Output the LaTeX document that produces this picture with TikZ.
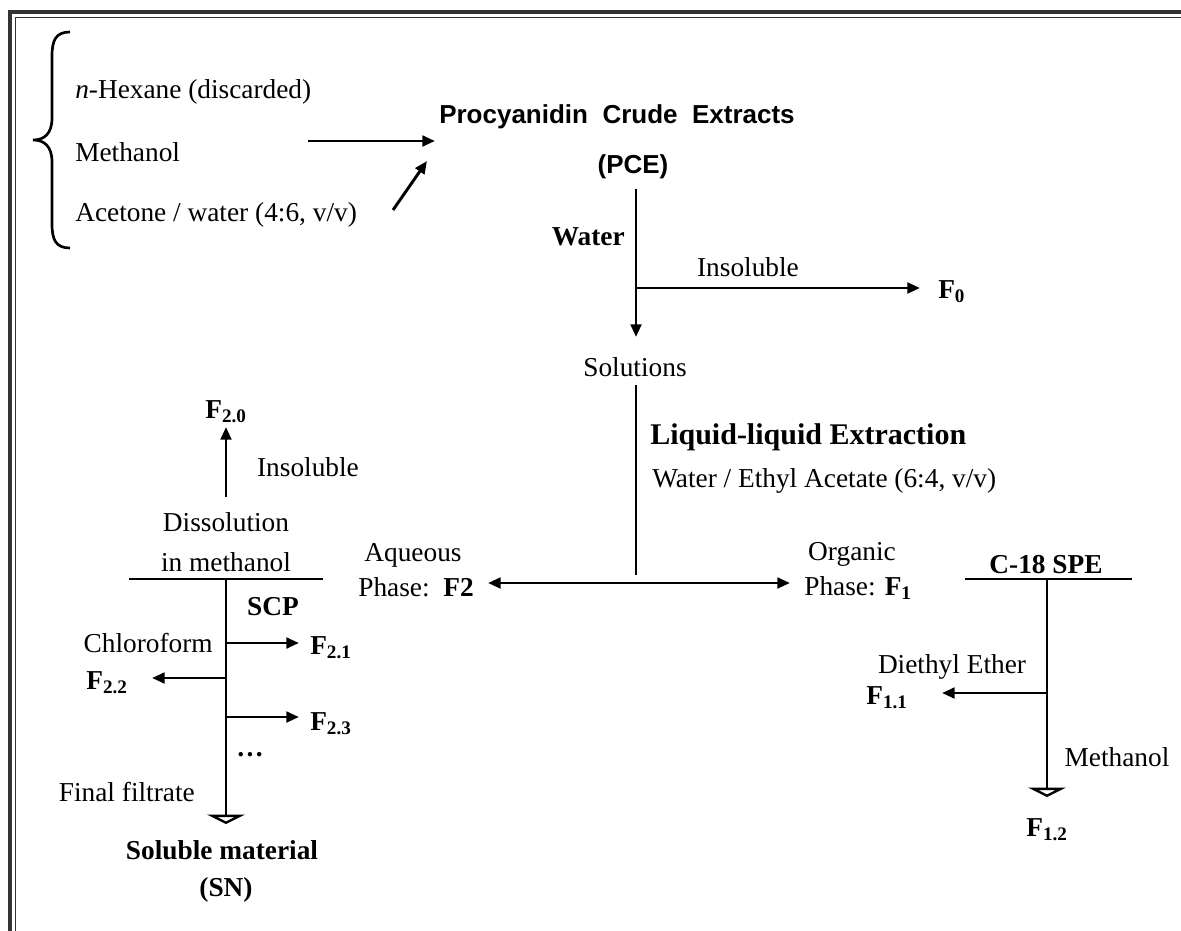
\documentclass[tikz,border=0pt]{standalone}
\usepackage{fontspec}
\setmainfont{Liberation Serif}
\newfontfamily\sansfont{Liberation Sans}
\usetikzlibrary{arrows.meta, positioning, calc}

\newcommand{\fr}[1]{\textbf{F\textsubscript{#1}}}

\begin{document}
\begin{tikzpicture}[x=0.75pt, y=-0.75pt,
    every node/.style={inner sep=0pt, font=\fontsize{20.5}{24}\selectfont},
    flow/.style={line width=2.2pt, -{Triangle[length=9.5pt, width=8pt]}},
    twoway/.style={line width=2.2pt, {Triangle[length=9.5pt, width=8pt]}-{Triangle[length=9.5pt, width=8pt]}},
    pipe/.style={line width=2.2pt},
    drain/.style={line width=2.2pt, -{Triangle[open, length=7pt, width=28pt, line width=2pt]}},
    frameline/.style={draw=black!80}]
    \useasboundingbox (0,0) rectangle (1181,931);
    % frame
    \draw[frameline, line width=3pt] (10,931) -- (10,12) -- (1181,12);
    \draw[frameline, line width=1.4pt] (15.5,931) -- (15.5,17.5) -- (1181,17.5);

    % solvents
    \draw[line width=2pt] (70,32) .. controls (56,32) and (52,40) .. (52,56) -- (52,118)
        .. controls (52,134) and (44,140) .. (33,140)
        .. controls (44,140) and (52,146) .. (52,162) -- (52,224)
        .. controls (52,240) and (56,248) .. (70,248);
    \node[anchor=west] (hex) at (75,92) {\textit{n}-Hexane (discarded)};
    \node[anchor=west] (meth) at (75,152) {Methanol};
    \node[anchor=west] (acet) at (75,215) {Acetone / water (4:6, v/v)};
    \coordinate (in1) at (308,141);
    \coordinate (in1e) at (435,141);
    \coordinate (in2) at (393,210);
    \coordinate (in2e) at (427,161);
    \draw[flow] (in1) -- (in1e);
    \draw[flow] (in2) -- (in2e);

    % crude extract
    \node (pce) at (617,117) {\sansfont\bfseries\fontsize{19.5}{22}\selectfont Procyanidin\ \ Crude\ \ Extracts};
    \node (pcex) at (633,167) {\sansfont\bfseries\fontsize{19.5}{22}\selectfont (PCE)};
    \node[anchor=east] (water) at (625,237) {\textbf{Water}};
    \coordinate (t1) at (636,189);
    \coordinate (br0) at (636,288);
    \coordinate (br0e) at (920,288);
    \coordinate (t1e) at (636,337);
    \draw[flow] (t1) -- (t1e);
    \node[anchor=west] (f0) at (938,292) {\fr{0}};
    \draw[flow] (br0) -- (br0e);
    \node (ins0) at (748,267) {Insoluble};
    \node (sol) at (635,367) {Solutions};

    % liquid-liquid extraction
    \node[anchor=west] (lle) at (650,437) {\fontsize{22.5}{26}\selectfont\textbf{Liquid-liquid Extraction}};
    \node[anchor=west] (lles) at (652,481) {Water / Ethyl Acetate (6:4, v/v)};
    \coordinate (t2) at (636,385);
    \coordinate (t2e) at (636,575);
    \draw[pipe] (t2) -- (t2e);
    \coordinate (aqe) at (488,583);
    \coordinate (orge) at (790,583);
    \draw[twoway] (aqe) -- (orge);
    \node (aq) at (413,555) {Aqueous};
    \node (aqp) at (416,587) {Phase:\ \ \textbf{F2}};
    \node (org) at (852,554) {Organic};
    \node (orgp) at (858,588) {Phase: \fr{1}};

    % organic phase: C-18 SPE
    \node (spe) at (1046,565) {\textbf{C-18 SPE}};
    \coordinate (spel) at (965,579);
    \coordinate (sper) at (1132,579);
    \coordinate (spet) at (1047,579);
    \coordinate (spee) at (1047,797);
    \coordinate (speb) at (1047,693);
    \coordinate (speo) at (942,693);
    \draw[pipe] (spel) -- (sper);
    \draw[drain] (spet) -- (spee);
    \node (dee) at (952,667) {Diethyl Ether};
    \node (f11) at (887,698) {\fr{1.1}};
    \draw[flow] (speb) -- (speo);
    \node (meoh) at (1117,757) {Methanol};
    \node (f12) at (1047,830) {\fr{1.2}};

    % aqueous phase: SCP
    \node (f20) at (226,412) {\fr{2.0}};
    \coordinate (up) at (226,497);
    \coordinate (upe) at (226,427);
    \draw[flow] (up) -- (upe);
    \node (ins2) at (308,467) {Insoluble};
    \node (dis) at (226,522) {Dissolution};
    \node (dism) at (226,562) {in\ methanol};
    \coordinate (scpl) at (129,579);
    \coordinate (scpr) at (323,579);
    \coordinate (scpt) at (226,579);
    \coordinate (scpe) at (226,824);
    \draw[pipe] (scpl) -- (scpr);
    \draw[drain] (scpt) -- (scpe);
    \node (scp) at (273,607) {\textbf{SCP}};
    \node[anchor=east] (chl) at (213,643) {Chloroform};
    \node[anchor=west] (f21) at (310,648) {\fr{2.1}};
    \node (f22) at (107,683) {\fr{2.2}};
    \node[anchor=west] (f23) at (310,724) {\fr{2.3}};
    \coordinate (c1) at (226,643);
    \coordinate (c1e) at (299,643);
    \coordinate (c2) at (226,678);
    \coordinate (c2e) at (152,678);
    \coordinate (c3) at (226,717);
    \coordinate (c3e) at (299,717);
    \draw[flow] (c1) -- (c1e);
    \draw[flow] (c2) -- (c2e);
    \draw[flow] (c3) -- (c3e);
    \node (dots) at (250,755) {\textbf{\dots}};
    \node[anchor=east] (fin) at (195,792) {Final filtrate};
    \node (snm) at (222,850) {\textbf{Soluble material}};
    \node (sn) at (226,890) {\textbf{(SN)}};
\end{tikzpicture}
\end{document}
